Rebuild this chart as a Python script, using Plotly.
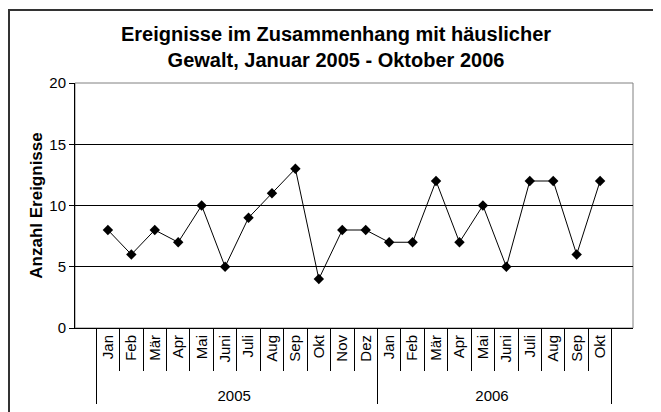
import plotly.graph_objects as go

months_2005 = ["Jan", "Feb", "Mär", "Apr", "Mai", "Juni", "Juli", "Aug", "Sep", "Okt", "Nov", "Dez"]
months_2006 = ["Jan", "Feb", "Mär", "Apr", "Mai", "Juni", "Juli", "Aug", "Sep", "Okt"]
values_2005 = [8, 6, 8, 7, 10, 5, 9, 11, 13, 4, 8, 8]
values_2006 = [7, 7, 12, 7, 10, 5, 12, 12, 6, 12]
y_ticks = [0, 5, 10, 15, 20]

years = ["2005"] * len(months_2005) + ["2006"] * len(months_2006)
PAD = "\u00a0\u00a0"     # keeps the year row a little lower, as in the reference
months = [PAD + m for m in months_2005 + months_2006]
values = values_2005 + values_2006

FONT = "Liberation Sans, Arial, sans-serif"
W, H = 653, 404          # page has an 8px body margin
L, R, T, B = 67, 28, 75, 84
PW, PH = W - L - R, H - T - B

fig = go.Figure()
fig.add_trace(go.Scatter(
    x=[years, months], y=values, mode="lines+markers",
    line=dict(color="black", width=1),
    marker=dict(symbol="diamond", size=8, color="black"),
    showlegend=False, cliponaxis=False,
))

fig.update_layout(
    width=W, height=H,
    margin=dict(l=L, r=R, t=T, b=B, autoexpand=False),
    paper_bgcolor="white", plot_bgcolor="white",
    font=dict(family=FONT, color="black", size=15),
    title=dict(
        text="<b>Ereignisse im Zusammenhang mit häuslicher<br>Gewalt, Januar 2005 - Oktober 2006</b>",
        x=328 / W, xanchor="center", xref="container",
        y=1 - 33 / H, yanchor="top", yref="container",
        font=dict(family=FONT, size=20, color="black"),
        automargin=False,
    ),
    xaxis=dict(
        type="multicategory", automargin=False,
        showline=True, linecolor="black", linewidth=1,
        ticks="outside", tickson="boundaries", ticklen=42, tickcolor="black",
        tickangle=-90, tickfont=dict(size=15),
        showdividers=True, dividercolor="black", dividerwidth=1,
        showgrid=False,
    ),
    yaxis=dict(
        range=[0, 20], tickvals=y_ticks, automargin=False,
        showline=True, linecolor="black", linewidth=1,
        ticks="outside", ticklen=5, tickcolor="black",
        showgrid=True, gridcolor="black", gridwidth=1,
        zeroline=False, tickfont=dict(size=15),
        title=dict(text="<b>Anzahl Ereignisse</b>", font=dict(size=17), standoff=2),
    ),
    shapes=[
        dict(type="rect", xref="paper", yref="paper", x0=0, x1=1, y0=0, y1=1,
             line=dict(color="#808080", width=1), layer="below"),
        dict(type="rect", xref="paper", yref="paper",
             x0=-(L - 1) / PW, x1=1.2, y0=-0.6, y1=1 + (T - 2) / PH,
             line=dict(color="#333333", width=2), layer="above"),
    ],
)

fig.write_html("out.html")
